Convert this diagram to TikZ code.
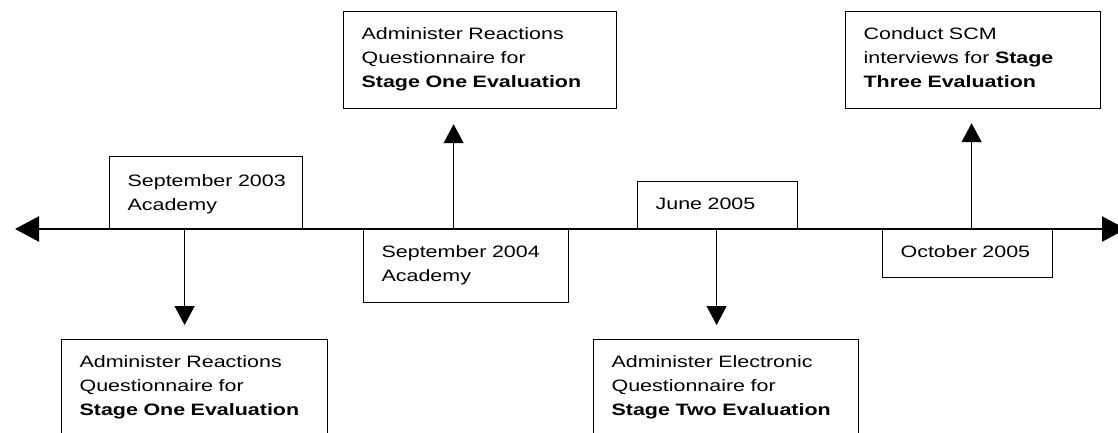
\documentclass[tikz,border=0pt]{standalone}
\usepackage{fontspec}
\setmainfont{Liberation Sans}[FakeStretch=1.3]
\usetikzlibrary{arrows.meta}
\newcommand{\ind}{\hspace*{18pt}}
\begin{document}
\begin{tikzpicture}[x=1pt,y=-1pt,
  tbox/.style={draw, line width=1.2pt, anchor=north west, inner sep=0pt, align=left,
    text height=28pt, font=\fontsize{16.5pt}{24pt}\selectfont},
  varr/.style={line width=1.2pt, -{Triangle[length=19pt,width=20pt]}},
  tline/.style={line width=2.4pt, {Triangle[length=24pt,width=25pt]}-{Triangle[length=24pt,width=25pt]}}]
\useasboundingbox (0,0) rectangle (1118,432);
\fill[white] (0,0) rectangle (1118,432);
\clip (0,0) rectangle (1118,432);
% boxes
\node[tbox, text width=193pt, text height=30pt, text depth=43pt] (A) at (109,156) {\ind September 2003\\\ind Academy};
\node[tbox, text width=266pt, text depth=82pt] (B) at (61,339) {\ind Administer Reactions\\\ind Questionnaire for\\\ind \textbf{Stage One Evaluation}};
\node[tbox, text width=273pt, text depth=69pt] (C) at (343,11) {\ind Administer Reactions\\\ind Questionnaire for\\\ind \textbf{Stage One Evaluation}};
\node[tbox, text width=205pt, text depth=45pt] (D) at (363,229) {\ind September 2004\\\ind Academy};
\node[tbox, text width=160pt, text depth=20pt] (E) at (637,181) {\ind June 2005};
\node[tbox, text width=265pt, text depth=82pt] (F) at (593,339) {\ind Administer Electronic\\\ind Questionnaire for\\\ind \textbf{Stage Two Evaluation}};
\node[tbox, text width=170pt, text depth=20pt] (G) at (882,229) {\ind October 2005};
\node[tbox, text width=255pt, text depth=69pt] (H) at (845,11) {\ind Conduct SCM\\\ind interviews for \textbf{Stage}\\\ind \textbf{Three Evaluation}};
% connectors
\draw[varr] ([xshift=-21.5pt]A.south) -- ([xshift=-10pt,yshift=14pt]B.north);
\draw[varr] ([xshift=-12.5pt]D.north) -- ([xshift=-26.5pt,yshift=-15pt]C.south);
\draw[varr] ([xshift=-1pt]E.south) -- ([xshift=-9.5pt,yshift=14pt]F.north);
\draw[varr] ([xshift=4pt]G.north) -- ([xshift=-1.5pt,yshift=-14pt]H.south);
% timeline
\coordinate (L) at (15,229);
\coordinate (R) at (1126,229);
\draw[tline] (L) -- (R);
\end{tikzpicture}
\end{document}
